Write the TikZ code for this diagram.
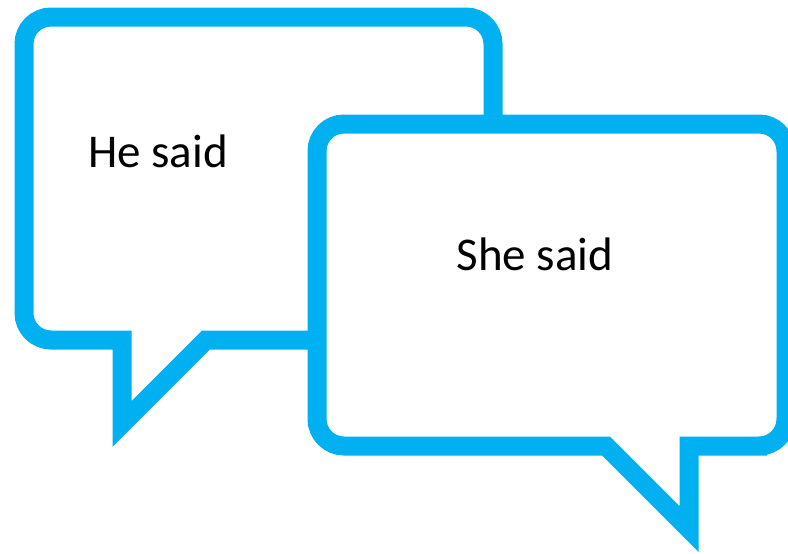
\documentclass[tikz,border=0pt]{standalone}
\usepackage{fontspec}
\setmainfont{Carlito}
\usepackage{tikz}
\usepackage{xcolor}
\definecolor{bubblecyan}{HTML}{00B0F0}

\begin{document}
\begin{tikzpicture}[
x=1pt, y=-1pt,
bubble/.style={
draw=bubblecyan,
fill=white,
line width=19pt,
line join=miter
},
said/.style={
anchor=base,
font=\fontsize{47}{56}\selectfont
}
]

\useasboundingbox (0,0) rectangle (788,554);

% his bubble
\draw[bubble, rounded corners=27pt] (24,178) -- (24,17) -- (493,17) -- (493,340) -- (300,340)
[sharp corners] -- (206,340) -- (122,424) -- (122,340) -- (70,340)
[rounded corners=27pt] -- (24,340) -- cycle;

% her bubble
\draw[bubble, rounded corners=27pt] (317,285) -- (317,124) -- (786,124) -- (786,446) -- (740,446)
[sharp corners] -- (689,446) -- (689,529) -- (606,446) -- (400,446)
[rounded corners=27pt] -- (317,446) -- cycle;

\node[said] (he) at (158,167) {He said};
\node[said] (she) at (535,270) {She said};

\end{tikzpicture}
\end{document}
